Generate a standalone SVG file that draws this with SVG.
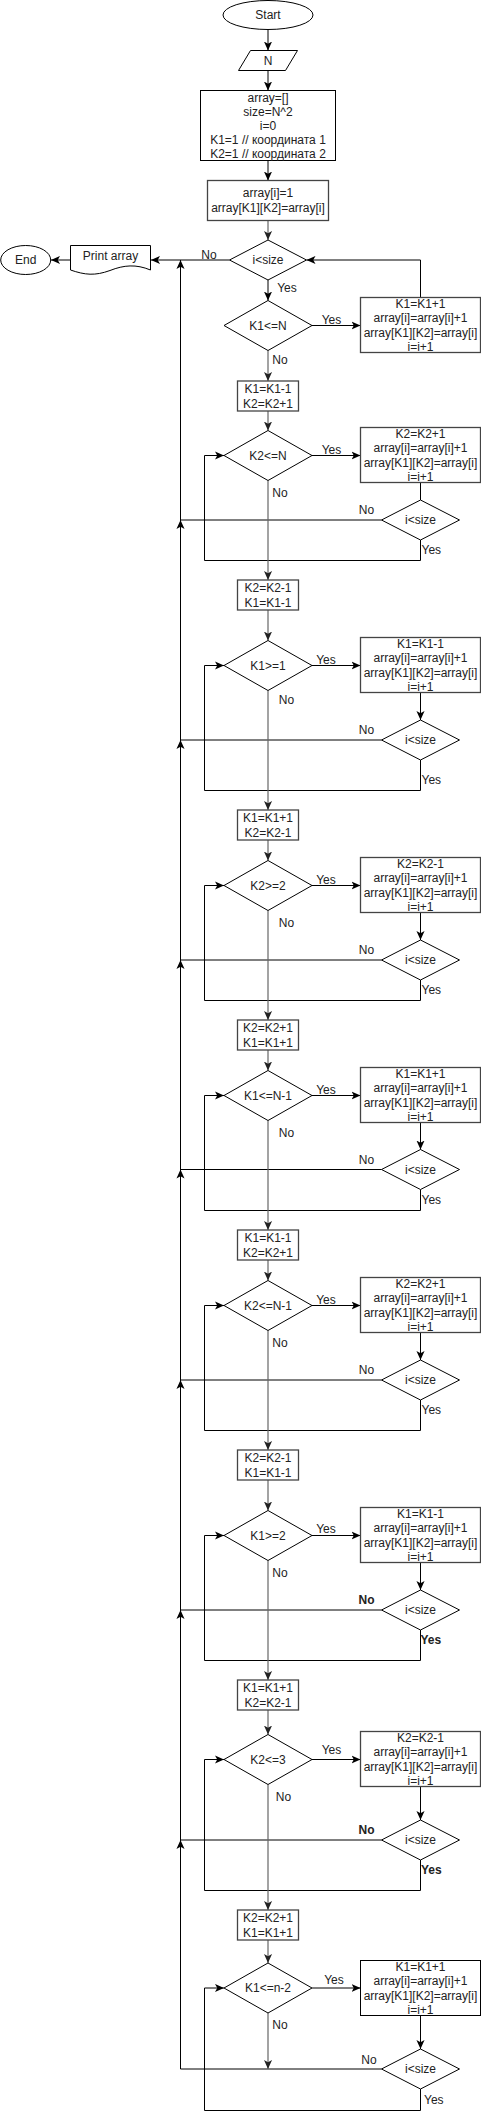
<svg xmlns="http://www.w3.org/2000/svg" width="481" height="2119" viewBox="0 0 481 2119">
<style>
.s{fill:#fff;stroke:#000;stroke-width:1}
.b{fill:#fff;stroke:#444;stroke-width:1.3}
.t{font-family:"Liberation Sans",Arial,sans-serif;font-size:12px;fill:#222;text-anchor:middle}
.l{font-family:"Liberation Sans",Arial,sans-serif;font-size:12px;fill:#222}
.bd{font-weight:bold}
.c{fill:none;stroke:#000;stroke-width:1}
.g{fill:none;stroke:#666;stroke-width:1.2}
</style>
<defs>
<marker id="a" viewBox="0 0 10 10" refX="10" refY="5" markerWidth="9" markerHeight="9" markerUnits="userSpaceOnUse" orient="auto"><path d="M0,0.5 L10,5 L0,9.5 L2.5,5 Z" fill="#000"/></marker>
<marker id="ag" viewBox="0 0 10 10" refX="10" refY="5" markerWidth="9" markerHeight="9" markerUnits="userSpaceOnUse" orient="auto"><path d="M0,0.5 L10,5 L0,9.5 L2.5,5 Z" fill="#222"/></marker>
</defs>

<g id="connectors">
<path class="c" d="M268,29.5 V50.5" marker-end="url(#a)"/>
<path class="c" d="M268,70.5 V90.5" marker-end="url(#a)"/>
<path class="c" d="M268,160.5 V180.5" marker-end="url(#a)"/>
<path class="g" d="M268,220.5 V240" marker-end="url(#ag)"/>
<path class="c" d="M229.5,260 H151" marker-end="url(#a)"/>
<path class="c" d="M70,260 H51" marker-end="url(#a)"/>
<path class="c" d="M268,280 V300.5" marker-end="url(#a)"/>
<path class="c" d="M312,325.5 H360.5" marker-end="url(#a)"/>
<path class="c" d="M420.5,297.5 V260 H306.5" marker-end="url(#a)"/>
<path class="g" d="M268,350.5 V381" marker-end="url(#ag)"/>
<path class="c" d="M381.5,2069 H180.5 V260" marker-end="url(#a)"/>
<!-- junction arrowheads on the left trunk -->
<path class="c" d="M180.5,530 V520" marker-end="url(#a)"/>
<path class="c" d="M180.5,750 V740" marker-end="url(#a)"/>
<path class="c" d="M180.5,970 V960" marker-end="url(#a)"/>
<path class="c" d="M180.5,1179.5 V1169.5" marker-end="url(#a)"/>
<path class="c" d="M180.5,1390 V1380" marker-end="url(#a)"/>
<path class="c" d="M180.5,1620 V1610" marker-end="url(#a)"/>
<path class="c" d="M180.5,1850 V1840" marker-end="url(#a)"/>

<!-- Section A -->
<path class="g" d="M268,411 V430.5" marker-end="url(#ag)"/>
<path class="c" d="M312,455.5 H360.5" marker-end="url(#a)"/>
<path class="c" d="M420.5,482.5 V500"/>
<path class="c" d="M381.5,520 H180.5"/>
<path class="c" d="M420.5,540 V560.5 H204.5 V455.5 H224" marker-end="url(#a)"/>
<path class="g" d="M268,480.5 V580" marker-end="url(#ag)"/>
<!-- Section B -->
<path class="g" d="M268,610 V640.5" marker-end="url(#ag)"/>
<path class="c" d="M312,665.5 H360.5" marker-end="url(#a)"/>
<path class="c" d="M420.5,692.5 V720" marker-end="url(#a)"/>
<path class="c" d="M381.5,740 H180.5"/>
<path class="c" d="M420.5,760 V790.5 H204.5 V665.5 H224" marker-end="url(#a)"/>
<path class="g" d="M268,690.5 V810" marker-end="url(#ag)"/>
<!-- Section C -->
<path class="g" d="M268,840 V860.5" marker-end="url(#ag)"/>
<path class="c" d="M312,885.5 H360.5" marker-end="url(#a)"/>
<path class="c" d="M420.5,912.5 V940" marker-end="url(#a)"/>
<path class="c" d="M381.5,960 H180.5"/>
<path class="c" d="M420.5,980 V1000.5 H204.5 V885.5 H224" marker-end="url(#a)"/>
<path class="g" d="M268,910.5 V1020" marker-end="url(#ag)"/>
<!-- Section D -->
<path class="g" d="M268,1050 V1070.5" marker-end="url(#ag)"/>
<path class="c" d="M312,1095.5 H360.5" marker-end="url(#a)"/>
<path class="c" d="M420.5,1122.5 V1149.5" marker-end="url(#a)"/>
<path class="c" d="M381.5,1169.5 H180.5"/>
<path class="c" d="M420.5,1189.5 V1210.5 H204.5 V1095.5 H224" marker-end="url(#a)"/>
<path class="g" d="M268,1120.5 V1230" marker-end="url(#ag)"/>
<!-- Section E -->
<path class="g" d="M268,1260 V1280.5" marker-end="url(#ag)"/>
<path class="c" d="M312,1305.5 H360.5" marker-end="url(#a)"/>
<path class="c" d="M420.5,1332.5 V1360" marker-end="url(#a)"/>
<path class="c" d="M381.5,1380 H180.5"/>
<path class="c" d="M420.5,1400 V1430.5 H204.5 V1305.5 H224" marker-end="url(#a)"/>
<path class="g" d="M268,1330.5 V1450" marker-end="url(#ag)"/>
<!-- Section F -->
<path class="g" d="M268,1480 V1510.5" marker-end="url(#ag)"/>
<path class="c" d="M312,1535.5 H360.5" marker-end="url(#a)"/>
<path class="c" d="M420.5,1562.5 V1590" marker-end="url(#a)"/>
<path class="c" d="M381.5,1610 H180.5"/>
<path class="c" d="M420.5,1630 V1660.5 H204.5 V1535.5 H224" marker-end="url(#a)"/>
<path class="g" d="M268,1560.5 V1680" marker-end="url(#ag)"/>
<!-- Section G -->
<path class="g" d="M268,1710 V1734.5" marker-end="url(#ag)"/>
<path class="c" d="M312,1759.5 H360.5" marker-end="url(#a)"/>
<path class="c" d="M420.5,1786.5 V1820" marker-end="url(#a)"/>
<path class="c" d="M381.5,1840 H180.5"/>
<path class="c" d="M420.5,1860 V1890.5 H204.5 V1759.5 H224" marker-end="url(#a)"/>
<path class="g" d="M268,1784.5 V1910" marker-end="url(#ag)"/>
<!-- Section H -->
<path class="g" d="M268,1940 V1963" marker-end="url(#ag)"/>
<path class="c" d="M312,1988 H360.5" marker-end="url(#a)"/>
<path class="c" d="M420.5,2015.5 V2049" marker-end="url(#a)"/>
<path class="c" d="M420.5,2089 V2110.5 H204.5 V1988 H224" marker-end="url(#a)"/>
<path class="g" d="M268,2013 V2069" marker-end="url(#ag)"/>

<!-- edge labels -->
<text class="t" x="209" y="258.5">No</text>
<text class="t" x="287" y="291.5">Yes</text>
<text class="t" x="331.5" y="323.5">Yes</text>
<text class="t" x="280" y="363.5">No</text>

<text class="t" x="331.5" y="453.5">Yes</text>
<text class="t" x="280" y="497">No</text>
<text class="t" x="366.5" y="513.5">No</text>
<text class="l" x="421.5" y="553.5">Yes</text>

<text class="t" x="326" y="663.5">Yes</text>
<text class="t" x="286.5" y="703.5">No</text>
<text class="t" x="366.5" y="733.5">No</text>
<text class="l" x="421.5" y="783.5">Yes</text>

<text class="t" x="326" y="883.5">Yes</text>
<text class="t" x="286.5" y="927">No</text>
<text class="t" x="366.5" y="954">No</text>
<text class="l" x="421.5" y="993.5">Yes</text>

<text class="t" x="326" y="1093.5">Yes</text>
<text class="t" x="286.5" y="1137">No</text>
<text class="t" x="366.5" y="1163.5">No</text>
<text class="l" x="421.5" y="1203.5">Yes</text>

<text class="t" x="326" y="1303.5">Yes</text>
<text class="t" x="280" y="1347">No</text>
<text class="t" x="366.5" y="1373.5">No</text>
<text class="l" x="421.5" y="1413.5">Yes</text>

<text class="t" x="326" y="1532.5">Yes</text>
<text class="t" x="280" y="1577">No</text>
<text class="t bd" x="366.5" y="1603.5">No</text>
<text class="l bd" x="420.5" y="1643.5">Yes</text>

<text class="t" x="331.5" y="1753.5">Yes</text>
<text class="t" x="283.5" y="1801">No</text>
<text class="t bd" x="366.5" y="1834">No</text>
<text class="l bd" x="421" y="1873.5">Yes</text>

<text class="t" x="334" y="1983.5">Yes</text>
<text class="t" x="280" y="2028.5">No</text>
<text class="t" x="369" y="2063.5">No</text>
<text class="l" x="424" y="2103.5">Yes</text>
</g>

<g id="start"><ellipse class="s" cx="268" cy="15" rx="45" ry="14.5"/><text class="t" x="268" y="19.3">Start</text></g>
<g id="input-n"><polygon class="s" points="250.5,50.5 297.5,50.5 285.5,70.5 238.5,70.5"/><text class="t" x="268" y="64.8">N</text></g>
<g id="init"><rect class="s" x="200.5" y="90.5" width="135" height="70"/>
<text class="t" x="268" y="102">array=[]</text>
<text class="t" x="268" y="116">size=N^2</text>
<text class="t" x="268" y="129.5">i=0</text>
<text class="t" x="268" y="143.5">K1=1 // координата 1</text>
<text class="t" x="268" y="158">K2=1 // координата 2</text></g>
<g id="first"><rect class="b" x="207.5" y="180.5" width="121" height="40"/>
<text class="t" x="268" y="197">array[i]=1</text>
<text class="t" x="268" y="212">array[K1][K2]=array[i]</text></g>
<g id="cond-main"><polygon class="s" points="268,240 306.5,260 268,280 229.5,260"/><text class="t" x="268" y="264.3">i&lt;size</text></g>
<g id="print"><path class="s" d="M70.5,245.5 H150.5 V270 C136,264 124,265 110,270.5 C95,276 85,275 70.5,270 Z"/><text class="t" x="110.5" y="260">Print array</text></g>
<g id="end"><ellipse class="s" cx="25.7" cy="260" rx="25" ry="14.5"/><text class="t" x="25.7" y="264.3">End</text></g>

<g id="cond-k1-n"><polygon class="s" points="268,300.5 312,325.5 268,350.5 224,325.5"/><text class="t" x="268" y="329.8">K1&lt;=N</text></g>
<g id="step-1"><rect class="b" x="360.5" y="297.5" width="120" height="55"/>
<text class="t" x="420.5" y="307.5">K1=K1+1</text><text class="t" x="420.5" y="322">array[i]=array[i]+1</text><text class="t" x="420.5" y="336.5">array[K1][K2]=array[i]</text><text class="t" x="420.5" y="351">i=i+1</text></g>

<g id="box-a"><rect class="b" x="237.5" y="381" width="61" height="30"/><text class="t" x="268" y="393">K1=K1-1</text><text class="t" x="268" y="407.5">K2=K2+1</text></g>
<g id="cond-a"><polygon class="s" points="268,430.5 312,455.5 268,480.5 224,455.5"/><text class="t" x="268" y="459.8">K2&lt;=N</text></g>
<g id="step-a"><rect class="b" x="360.5" y="427.5" width="120" height="55"/>
<text class="t" x="420.5" y="437.5">K2=K2+1</text><text class="t" x="420.5" y="452">array[i]=array[i]+1</text><text class="t" x="420.5" y="466.5">array[K1][K2]=array[i]</text><text class="t" x="420.5" y="481">i=i+1</text></g>
<g id="check-a"><polygon class="s" points="420.5,500 459.5,520 420.5,540 381.5,520"/><text class="t" x="420.5" y="524.3">i&lt;size</text></g>

<g id="box-b"><rect class="b" x="237.5" y="580" width="61" height="30"/><text class="t" x="268" y="592">K2=K2-1</text><text class="t" x="268" y="606.5">K1=K1-1</text></g>
<g id="cond-b"><polygon class="s" points="268,640.5 312,665.5 268,690.5 224,665.5"/><text class="t" x="268" y="669.8">K1&gt;=1</text></g>
<g id="step-b"><rect class="b" x="360.5" y="637.5" width="120" height="55"/>
<text class="t" x="420.5" y="647.5">K1=K1-1</text><text class="t" x="420.5" y="662">array[i]=array[i]+1</text><text class="t" x="420.5" y="676.5">array[K1][K2]=array[i]</text><text class="t" x="420.5" y="691">i=i+1</text></g>
<g id="check-b"><polygon class="s" points="420.5,720 459.5,740 420.5,760 381.5,740"/><text class="t" x="420.5" y="744.3">i&lt;size</text></g>

<g id="box-c"><rect class="b" x="237.5" y="810" width="61" height="30"/><text class="t" x="268" y="822">K1=K1+1</text><text class="t" x="268" y="836.5">K2=K2-1</text></g>
<g id="cond-c"><polygon class="s" points="268,860.5 312,885.5 268,910.5 224,885.5"/><text class="t" x="268" y="889.8">K2&gt;=2</text></g>
<g id="step-c"><rect class="b" x="360.5" y="857.5" width="120" height="55"/>
<text class="t" x="420.5" y="867.5">K2=K2-1</text><text class="t" x="420.5" y="882">array[i]=array[i]+1</text><text class="t" x="420.5" y="896.5">array[K1][K2]=array[i]</text><text class="t" x="420.5" y="911">i=i+1</text></g>
<g id="check-c"><polygon class="s" points="420.5,940 459.5,960 420.5,980 381.5,960"/><text class="t" x="420.5" y="964.3">i&lt;size</text></g>

<g id="box-d"><rect class="b" x="237.5" y="1020" width="61" height="30"/><text class="t" x="268" y="1032">K2=K2+1</text><text class="t" x="268" y="1046.5">K1=K1+1</text></g>
<g id="cond-d"><polygon class="s" points="268,1070.5 312,1095.5 268,1120.5 224,1095.5"/><text class="t" x="268" y="1099.8">K1&lt;=N-1</text></g>
<g id="step-d"><rect class="b" x="360.5" y="1067.5" width="120" height="55"/>
<text class="t" x="420.5" y="1077.5">K1=K1+1</text><text class="t" x="420.5" y="1092">array[i]=array[i]+1</text><text class="t" x="420.5" y="1106.5">array[K1][K2]=array[i]</text><text class="t" x="420.5" y="1121">i=i+1</text></g>
<g id="check-d"><polygon class="s" points="420.5,1149.5 459.5,1169.5 420.5,1189.5 381.5,1169.5"/><text class="t" x="420.5" y="1173.8">i&lt;size</text></g>

<g id="box-e"><rect class="b" x="237.5" y="1230" width="61" height="30"/><text class="t" x="268" y="1242">K1=K1-1</text><text class="t" x="268" y="1256.5">K2=K2+1</text></g>
<g id="cond-e"><polygon class="s" points="268,1280.5 312,1305.5 268,1330.5 224,1305.5"/><text class="t" x="268" y="1309.8">K2&lt;=N-1</text></g>
<g id="step-e"><rect class="b" x="360.5" y="1277.5" width="120" height="55"/>
<text class="t" x="420.5" y="1287.5">K2=K2+1</text><text class="t" x="420.5" y="1302">array[i]=array[i]+1</text><text class="t" x="420.5" y="1316.5">array[K1][K2]=array[i]</text><text class="t" x="420.5" y="1331">i=i+1</text></g>
<g id="check-e"><polygon class="s" points="420.5,1360 459.5,1380 420.5,1400 381.5,1380"/><text class="t" x="420.5" y="1384.3">i&lt;size</text></g>

<g id="box-f"><rect class="b" x="237.5" y="1450" width="61" height="30"/><text class="t" x="268" y="1462">K2=K2-1</text><text class="t" x="268" y="1476.5">K1=K1-1</text></g>
<g id="cond-f"><polygon class="s" points="268,1510.5 312,1535.5 268,1560.5 224,1535.5"/><text class="t" x="268" y="1539.8">K1&gt;=2</text></g>
<g id="step-f"><rect class="b" x="360.5" y="1507.5" width="120" height="55"/>
<text class="t" x="420.5" y="1517.5">K1=K1-1</text><text class="t" x="420.5" y="1532">array[i]=array[i]+1</text><text class="t" x="420.5" y="1546.5">array[K1][K2]=array[i]</text><text class="t" x="420.5" y="1561">i=i+1</text></g>
<g id="check-f"><polygon class="s" points="420.5,1590 459.5,1610 420.5,1630 381.5,1610"/><text class="t" x="420.5" y="1614.3">i&lt;size</text></g>

<g id="box-g"><rect class="b" x="237.5" y="1680" width="61" height="30"/><text class="t" x="268" y="1692">K1=K1+1</text><text class="t" x="268" y="1706.5">K2=K2-1</text></g>
<g id="cond-g"><polygon class="s" points="268,1734.5 312,1759.5 268,1784.5 224,1759.5"/><text class="t" x="268" y="1763.8">K2&lt;=3</text></g>
<g id="step-g"><rect class="b" x="360.5" y="1731.5" width="120" height="55"/>
<text class="t" x="420.5" y="1741.5">K2=K2-1</text><text class="t" x="420.5" y="1756">array[i]=array[i]+1</text><text class="t" x="420.5" y="1770.5">array[K1][K2]=array[i]</text><text class="t" x="420.5" y="1785">i=i+1</text></g>
<g id="check-g"><polygon class="s" points="420.5,1820 459.5,1840 420.5,1860 381.5,1840"/><text class="t" x="420.5" y="1844.3">i&lt;size</text></g>

<g id="box-h"><rect class="b" x="237.5" y="1910" width="61" height="30"/><text class="t" x="268" y="1922">K2=K2+1</text><text class="t" x="268" y="1936.5">K1=K1+1</text></g>
<g id="cond-h"><polygon class="s" points="268,1963 312,1988 268,2013 224,1988"/><text class="t" x="268" y="1992.3">K1&lt;=n-2</text></g>
<g id="step-h"><rect class="s" x="360.5" y="1960.5" width="120" height="55"/>
<text class="t" x="420.5" y="1970.5">K1=K1+1</text><text class="t" x="420.5" y="1985">array[i]=array[i]+1</text><text class="t" x="420.5" y="1999.5">array[K1][K2]=array[i]</text><text class="t" x="420.5" y="2014">i=i+1</text></g>
<g id="check-h"><polygon class="s" points="420.5,2049 459.5,2069 420.5,2089 381.5,2069"/><text class="t" x="420.5" y="2073.3">i&lt;size</text></g>
</svg>
